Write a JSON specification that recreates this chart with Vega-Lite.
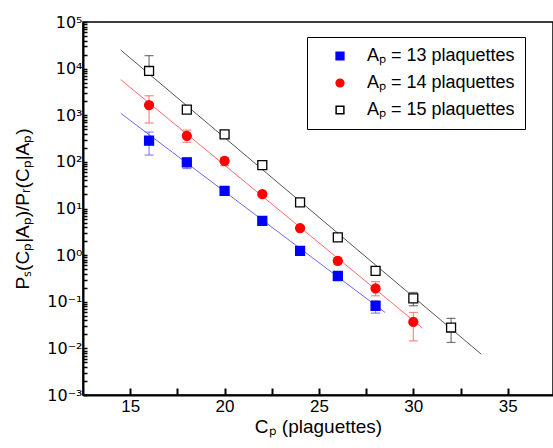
{
  "$schema": "https://vega.github.io/schema/vega-lite/v6.json",
  "width": 470,
  "height": 373,
  "autosize": {"type": "none"},
  "padding": {"left": 83, "top": 22, "right": 0, "bottom": 53},
  "background": "white",
  "config": {
    "view": {"stroke": "black", "strokeWidth": 1.5},
    "font": "Liberation Sans",
    "axis": {"grid": false, "zindex": 1, "domainColor": "black", "domainWidth": 2, "labelColor": "black", "titleColor": "black", "labelFont": "Liberation Sans", "titleFont": "Liberation Sans", "labelFontSize": 17, "titleFontSize": 19, "titleFontWeight": "normal", "labelOverlap": false}
  },
  "datasets": {
    "pts": [
      {"series": "Aₚ = 13 plaquettes", "C": 16, "v": 284},
      {"series": "Aₚ = 13 plaquettes", "C": 18, "v": 98},
      {"series": "Aₚ = 13 plaquettes", "C": 20, "v": 24},
      {"series": "Aₚ = 13 plaquettes", "C": 22, "v": 5.4},
      {"series": "Aₚ = 13 plaquettes", "C": 24, "v": 1.24},
      {"series": "Aₚ = 13 plaquettes", "C": 26, "v": 0.36},
      {"series": "Aₚ = 13 plaquettes", "C": 28, "v": 0.082},
      {"series": "Aₚ = 14 plaquettes", "C": 16, "v": 1650},
      {"series": "Aₚ = 14 plaquettes", "C": 18, "v": 363},
      {"series": "Aₚ = 14 plaquettes", "C": 20, "v": 105},
      {"series": "Aₚ = 14 plaquettes", "C": 22, "v": 20.3},
      {"series": "Aₚ = 14 plaquettes", "C": 24, "v": 3.8},
      {"series": "Aₚ = 14 plaquettes", "C": 26, "v": 0.755},
      {"series": "Aₚ = 14 plaquettes", "C": 28, "v": 0.193},
      {"series": "Aₚ = 14 plaquettes", "C": 30, "v": 0.037},
      {"series": "Aₚ = 15 plaquettes", "C": 16, "v": 8900},
      {"series": "Aₚ = 15 plaquettes", "C": 18, "v": 1320},
      {"series": "Aₚ = 15 plaquettes", "C": 20, "v": 390},
      {"series": "Aₚ = 15 plaquettes", "C": 22, "v": 85},
      {"series": "Aₚ = 15 plaquettes", "C": 24, "v": 13.5},
      {"series": "Aₚ = 15 plaquettes", "C": 26, "v": 2.4},
      {"series": "Aₚ = 15 plaquettes", "C": 28, "v": 0.46},
      {"series": "Aₚ = 15 plaquettes", "C": 30, "v": 0.118},
      {"series": "Aₚ = 15 plaquettes", "C": 32, "v": 0.028}
    ],
    "err": [
      {"grp": "A13", "C": 16, "lo": 140, "hi": 436},
      {"grp": "A13", "C": 18, "lo": 72, "hi": 119},
      {"grp": "A13", "C": 26, "lo": 0.28, "hi": 0.43},
      {"grp": "A13", "C": 28, "lo": 0.057, "hi": 0.105},
      {"grp": "A14", "C": 16, "lo": 680, "hi": 2620},
      {"grp": "A14", "C": 18, "lo": 263, "hi": 480},
      {"grp": "A14", "C": 20, "lo": 83, "hi": 125},
      {"grp": "A14", "C": 26, "lo": 0.64, "hi": 0.89},
      {"grp": "A14", "C": 28, "lo": 0.134, "hi": 0.27},
      {"grp": "A14", "C": 30, "lo": 0.0145, "hi": 0.059},
      {"grp": "A15", "C": 16, "lo": 7500, "hi": 19000},
      {"grp": "A15", "C": 18, "lo": 1150, "hi": 1450},
      {"grp": "A15", "C": 20, "lo": 340, "hi": 440},
      {"grp": "A15", "C": 28, "lo": 0.40, "hi": 0.54},
      {"grp": "A15", "C": 30, "lo": 0.082, "hi": 0.158},
      {"grp": "A15", "C": 32, "lo": 0.0134, "hi": 0.044}
    ],
    "fits": [
      {"grp": "A13", "C": 14.5, "v": 1100},
      {"grp": "A13", "C": 28.5, "v": 0.059},
      {"grp": "A14", "C": 14.5, "v": 5800},
      {"grp": "A14", "C": 30.5, "v": 0.027},
      {"grp": "A15", "C": 14.5, "v": 25000},
      {"grp": "A15", "C": 33.6, "v": 0.0075}
    ]
  },
  "encoding": {
    "x": {
      "field": "C", "type": "quantitative",
      "scale": {"domain": [12.5, 37.4], "nice": false, "zero": false},
      "axis": {
        "title": "Cₚ (plaguettes)",
        "values": [15, 17.5, 20, 22.5, 25, 27.5, 30, 32.5, 35],
        "labelExpr": "datum.value % 5 == 0 ? datum.label : ''",
        "ticks": true,
        "tickColor": "#000000",
        "tickOpacity": 1,
        "tickWidth": 2,
        "tickSize": -7,
        "labelPadding": 10,
        "titlePadding": 3
      }
    }
  },
  "layer": [
    {
      "data": {"name": "fits"},
      "mark": {"type": "line", "strokeWidth": 1, "clip": true},
      "encoding": {
        "y": {"field": "v", "type": "quantitative", "title": "Pₛ(Cₚ|Aₚ)/Pᵣ(Cₚ|Aₚ)", "scale": {"type": "log", "domain": [0.001, 100000], "nice": false},
          "axis": {
            "tickCount": 20,
            "labelFont": "DejaVu Sans",
            "labelFontSize": 16,
            "labelExpr": "abs(log(datum.value)/LN10 - round(log(datum.value)/LN10)) < 0.001 ? '10' + replace(replace(replace(replace(replace(replace(replace(toString(round(log(datum.value)/LN10)), '-', '⁻'), '0', '⁰'), '1', '¹'), '2', '²'), '3', '³'), '4', '⁴'), '5', '⁵') : ''",
            "ticks": true,
            "tickColor": "#000000",
            "tickOpacity": 1,
            "tickWidth": 1.5,
            "tickSize": -4,
            "labelPadding": 5,
            "titlePadding": 14
          }},
        "detail": {"field": "grp"},
        "color": {"field": "grp", "type": "nominal", "legend": null,
          "scale": {"domain": ["A13", "A14", "A15"], "range": ["#6a6aff", "#ff6a6a", "#555555"]}}
      }
    },
    {
      "data": {"name": "err"},
      "mark": {"type": "errorbar", "ticks": {"size": 9}, "thickness": 1.2, "opacity": 0.8},
      "encoding": {
        "y": {"field": "lo", "type": "quantitative", "title": "Pₛ(Cₚ|Aₚ)/Pᵣ(Cₚ|Aₚ)"},
        "y2": {"field": "hi"},
        "color": {"field": "grp", "type": "nominal", "legend": null}
      }
    },
    {
      "data": {"name": "pts"},
      "mark": {"type": "point", "filled": false, "strokeWidth": 1.3, "opacity": 1, "size": 80},
      "encoding": {
        "y": {"field": "v", "type": "quantitative", "title": "Pₛ(Cₚ|Aₚ)/Pᵣ(Cₚ|Aₚ)"},
        "shape": {"field": "series", "type": "nominal", "scale": {"domain": ["Aₚ = 13 plaquettes", "Aₚ = 14 plaquettes", "Aₚ = 15 plaquettes"], "range": ["square", "circle", "square"]},
          "legend": {"title": null, "orient": "none", "legendX": 224, "legendY": 15, "strokeColor": "black", "padding": 10, "labelFontSize": 18, "labelFont": "Liberation Sans", "labelColor": "black", "symbolOffset": 14, "labelOffset": 18, "rowPadding": 9, "symbolSize": 60, "fillColor": "white"}},
        "fill": {"field": "series", "type": "nominal", "scale": {"domain": ["Aₚ = 13 plaquettes", "Aₚ = 14 plaquettes", "Aₚ = 15 plaquettes"], "range": ["#0000ff", "#ff0000", "#ffffff"]}},
        "stroke": {"field": "series", "type": "nominal", "scale": {"domain": ["Aₚ = 13 plaquettes", "Aₚ = 14 plaquettes", "Aₚ = 15 plaquettes"], "range": ["#0000ff", "#ff0000", "#000000"]}}
      }
    }
  ]
}
